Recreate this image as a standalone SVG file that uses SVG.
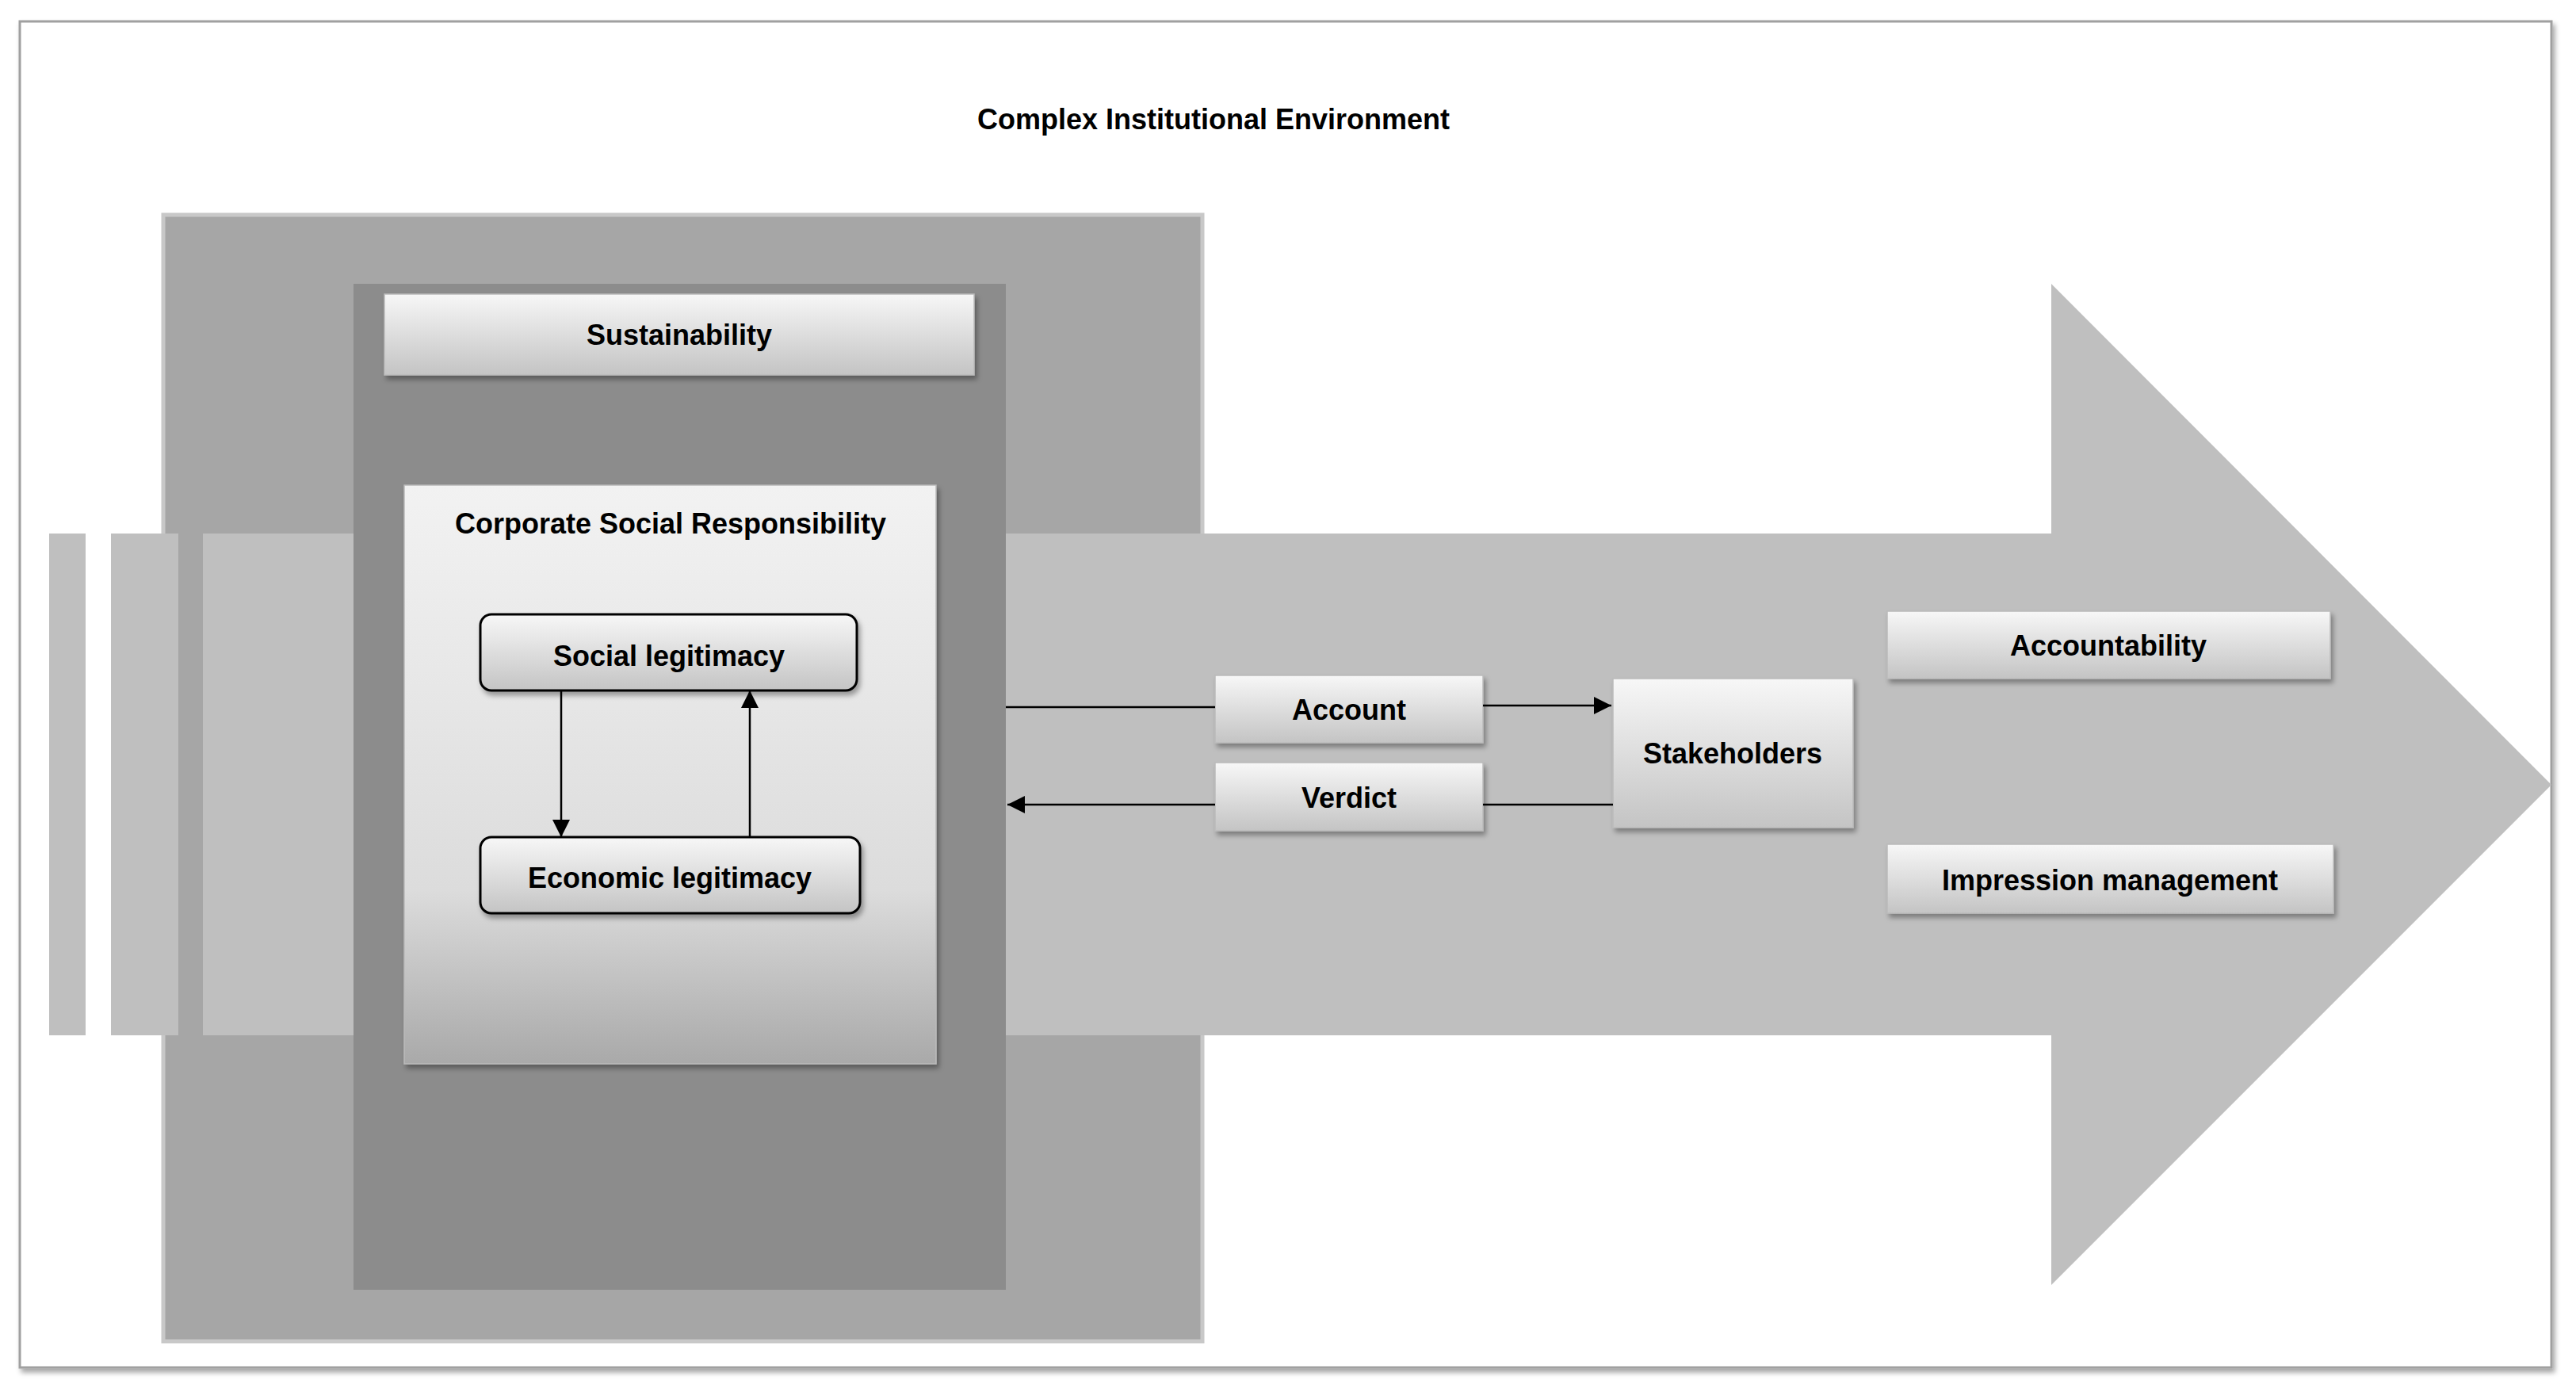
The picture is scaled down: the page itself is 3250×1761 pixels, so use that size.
<svg xmlns="http://www.w3.org/2000/svg" width="3250" height="1761" viewBox="0 0 3250 1761">
<defs>
<linearGradient id="g1" x1="0" y1="0" x2="0" y2="1"><stop offset="0" stop-color="#f7f7f7"/><stop offset="1" stop-color="#c4c4c4"/></linearGradient>
<linearGradient id="g2" x1="0" y1="0" x2="0" y2="1"><stop offset="0" stop-color="#f2f2f2"/><stop offset="0.7" stop-color="#dcdcdc"/><stop offset="1" stop-color="#a9a9a9"/></linearGradient>
<filter id="sh" x="-10%" y="-10%" width="130%" height="140%"><feDropShadow dx="3" dy="5" stdDeviation="3" flood-color="#000" flood-opacity="0.35"/></filter>
<marker id="ah" viewBox="0 0 10 10" refX="10" refY="5" markerWidth="10" markerHeight="10" markerUnits="userSpaceOnUse" orient="auto"><path d="M0,0 L10,5 L0,10 z" fill="#000"/></marker>
<marker id="ah2" viewBox="0 0 10 10" refX="10" refY="5" markerWidth="24" markerHeight="22" markerUnits="userSpaceOnUse" orient="auto"><path d="M0,0 L10,5 L0,10 z" fill="#000"/></marker>
</defs>
<style>
text{font-family:"Liberation Sans",Arial,sans-serif;font-weight:bold;font-size:36px;fill:#000;text-anchor:middle;dominant-baseline:central}
.box{fill:url(#g1);stroke:#bbb;stroke-width:1.5;filter:url(#sh)}
.rbox{fill:url(#g1);stroke:#000;stroke-width:3;filter:url(#sh)}
.ln{stroke:#000;stroke-width:2.5;fill:none}
</style>
<rect x="0" y="0" width="3250" height="1761" fill="#fff"/>
<rect id="frame" x="25" y="27" width="3194" height="1698" fill="#fff" stroke="#a0a0a0" stroke-width="3" filter="url(#sh)"/>
<text x="1531" y="150">Complex Institutional Environment</text>
<g id="outer"><rect x="206" y="271" width="1311" height="1421" fill="#a6a6a6" stroke="#c8c8c8" stroke-width="5"/></g>
<g id="arrow" fill="#bfbfbf">
<rect x="62" y="673" width="46" height="633"/>
<rect x="140" y="673" width="85" height="633"/>
<path d="M256,673 L2588,673 L2588,358 L3219,990 L2588,1621 L2588,1306 L256,1306 z"/>
</g>
<g id="inner"><rect x="446" y="358" width="823" height="1269" fill="#8c8c8c"/></g>
<g id="sustainability"><rect class="box" x="485" y="371" width="744" height="102"/><text x="857" y="422">Sustainability</text></g>
<g id="csr"><rect x="510" y="612" width="671" height="730" fill="url(#g2)" stroke="#bbb" stroke-width="1.5" filter="url(#sh)"/><text x="846" y="660">Corporate Social Responsibility</text></g>
<g id="social"><rect class="rbox" x="606" y="775" width="475" height="96" rx="14"/><text x="844" y="827">Social legitimacy</text></g>
<g id="economic"><rect class="rbox" x="606" y="1056" width="479" height="96" rx="14"/><text x="845" y="1107">Economic legitimacy</text></g>
<g id="account"><rect class="box" x="1533" y="852" width="338" height="85"/><text x="1702" y="895">Account</text></g>
<g id="verdict"><rect class="box" x="1533" y="962" width="338" height="86"/><text x="1702" y="1006">Verdict</text></g>
<g id="stakeholders"><rect class="box" x="2035" y="856" width="303" height="188"/><text x="2186" y="950">Stakeholders</text></g>
<g id="accountability"><rect class="box" x="2381" y="771" width="559" height="85"/><text x="2660" y="814">Accountability</text></g>
<g id="impression"><rect class="box" x="2381" y="1065" width="563" height="87"/><text x="2662" y="1110">Impression management</text></g>
<g id="connectors">
<line class="ln" x1="708" y1="871" x2="708" y2="1056" marker-end="url(#ah2)"/>
<line class="ln" x1="946" y1="1056" x2="946" y2="871" marker-end="url(#ah2)"/>
<line class="ln" x1="1269" y1="892" x2="1533" y2="892"/>
<line class="ln" x1="1871" y1="890" x2="2033" y2="890" marker-end="url(#ah2)"/>
<line class="ln" x1="2035" y1="1015" x2="1871" y2="1015"/>
<line class="ln" x1="1533" y1="1015" x2="1271" y2="1015" marker-end="url(#ah2)"/>
</g>
</svg>
